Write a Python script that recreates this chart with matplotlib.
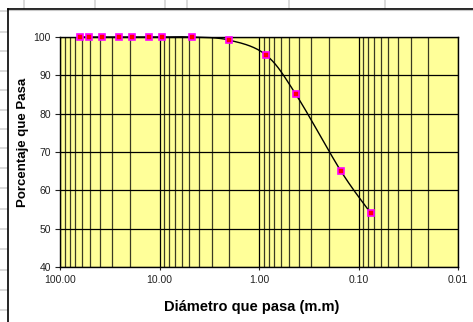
import numpy as np
import matplotlib
matplotlib.use("Agg")
import matplotlib.pyplot as plt
from matplotlib.ticker import LogLocator, FixedLocator, NullFormatter
from matplotlib.lines import Line2D

# Granulometry data: sieve opening (mm) and percentage passing
diametro = [63.5, 50.8, 38.1, 25.4, 19.05, 12.7, 9.525, 4.75, 2.0, 0.85, 0.425, 0.15, 0.075]
pasa = [100, 100, 100, 100, 100, 100, 100, 100, 99.2, 95.3, 85.0, 65.0, 54.0]

x_ticks = [100, 10, 1, 0.1, 0.01]
x_tick_labels = ["100.00", "10.00", "1.00", "0.10", "0.01"]
y_ticks = [40, 50, 60, 70, 80, 90, 100]

plt.rcParams["font.family"] = ["Liberation Sans", "DejaVu Sans"]

W, H = 473, 322
fig = plt.figure(figsize=(W / 100, H / 100), dpi=100)
fig.patch.set_facecolor("white")


def fx(px):
    return px / W


def fy(py):
    return 1 - py / H


# Spreadsheet cell grid visible behind the chart
cell_color = "#d4d4d4"
for yy in [11, 32, 51, 71, 90, 110, 129, 148, 168, 188, 209, 229, 249, 270, 290, 310]:
    fig.add_artist(Line2D([0, fx(7)], [fy(yy), fy(yy)], color=cell_color, lw=1.2, zorder=-2))
for xx in [24, 95, 165, 187, 289, 385]:
    fig.add_artist(Line2D([fx(xx), fx(xx)], [fy(0), fy(8)], color=cell_color, lw=1.2, zorder=-2))

# Chart area border (runs off the right and bottom edges)
fig.add_artist(Line2D([fx(7.5), 1.0], [fy(8.5), fy(8.5)], color="black", lw=1.2, zorder=-1))
fig.add_artist(Line2D([fx(7.5), 1.0], [fy(10), fy(10)], color="#c8c8c8", lw=0.8, zorder=-1))
fig.add_artist(Line2D([fx(7.5), fx(7.5)], [0, fy(8.5)], color="black", lw=1.2, zorder=-1))

ax = fig.add_axes([fx(60), fy(267), fx(458) - fx(60), fy(37) - fy(267)])
ax.set_facecolor("#FFFF99")

ax.set_xscale("log")
ax.set_xlim(100, 0.01)
ax.set_ylim(40, 100)

ax.xaxis.set_major_locator(FixedLocator(x_ticks))
ax.set_xticks(x_ticks)
ax.set_xticklabels(x_tick_labels)
ax.xaxis.set_minor_locator(LogLocator(base=10, subs=np.arange(2, 10)))
ax.xaxis.set_minor_formatter(NullFormatter())
ax.set_yticks(y_ticks)

ax.grid(True, which="major", axis="both", color="black", lw=0.9)
ax.grid(True, which="minor", axis="x", color="#3a3a22", lw=0.9)
ax.set_axisbelow(True)

ax.tick_params(axis="both", which="major", direction="out", width=0.8,
               labelsize=7.5, colors="#222222")
ax.tick_params(axis="y", which="major", length=3.6, pad=3)
ax.tick_params(axis="x", which="major", length=2, pad=4)
ax.tick_params(axis="x", which="minor", length=0)
for s in ax.spines.values():
    s.set_color("black")
    s.set_linewidth(1.0)

# Smoothed line (Catmull-Rom through the points, in log-x space)
lx = np.log10(diametro)
py = np.array(pasa, dtype=float)
P = np.column_stack([lx, py])
n = len(P)
curve = []
t = np.linspace(0, 1, 30)
for i in range(n - 1):
    p0 = P[i - 1] if i > 0 else P[i]
    p1 = P[i]
    p2 = P[i + 1]
    p3 = P[i + 2] if i + 2 < n else P[i + 1]
    c1 = p1 + (p2 - p0) / 6
    c2 = p2 - (p3 - p1) / 6
    tt = t[:, None]
    seg = ((1 - tt) ** 3) * p1 + 3 * ((1 - tt) ** 2) * tt * c1 + 3 * (1 - tt) * tt ** 2 * c2 + tt ** 3 * p2
    curve.append(seg)
curve = np.vstack(curve)
ax.plot(10 ** curve[:, 0], curve[:, 1], color="black", lw=1.0, zorder=3, clip_on=False)

ax.plot(diametro, pasa, linestyle="none", marker="s", markersize=4.5,
        markerfacecolor="#FF0000", markeredgecolor="#FF00FF", markeredgewidth=1.2,
        zorder=4, clip_on=False)

fig.text(fx(23), fy(142), "Porcentaje que Pasa", rotation=90, ha="center", va="center",
         fontsize=9.5, fontweight="bold")
fig.text(fx(252), fy(307), "Diámetro que pasa (m.m)", ha="center", va="center",
         fontsize=10.5, fontweight="bold")

fig.savefig("out.png", dpi=100)
